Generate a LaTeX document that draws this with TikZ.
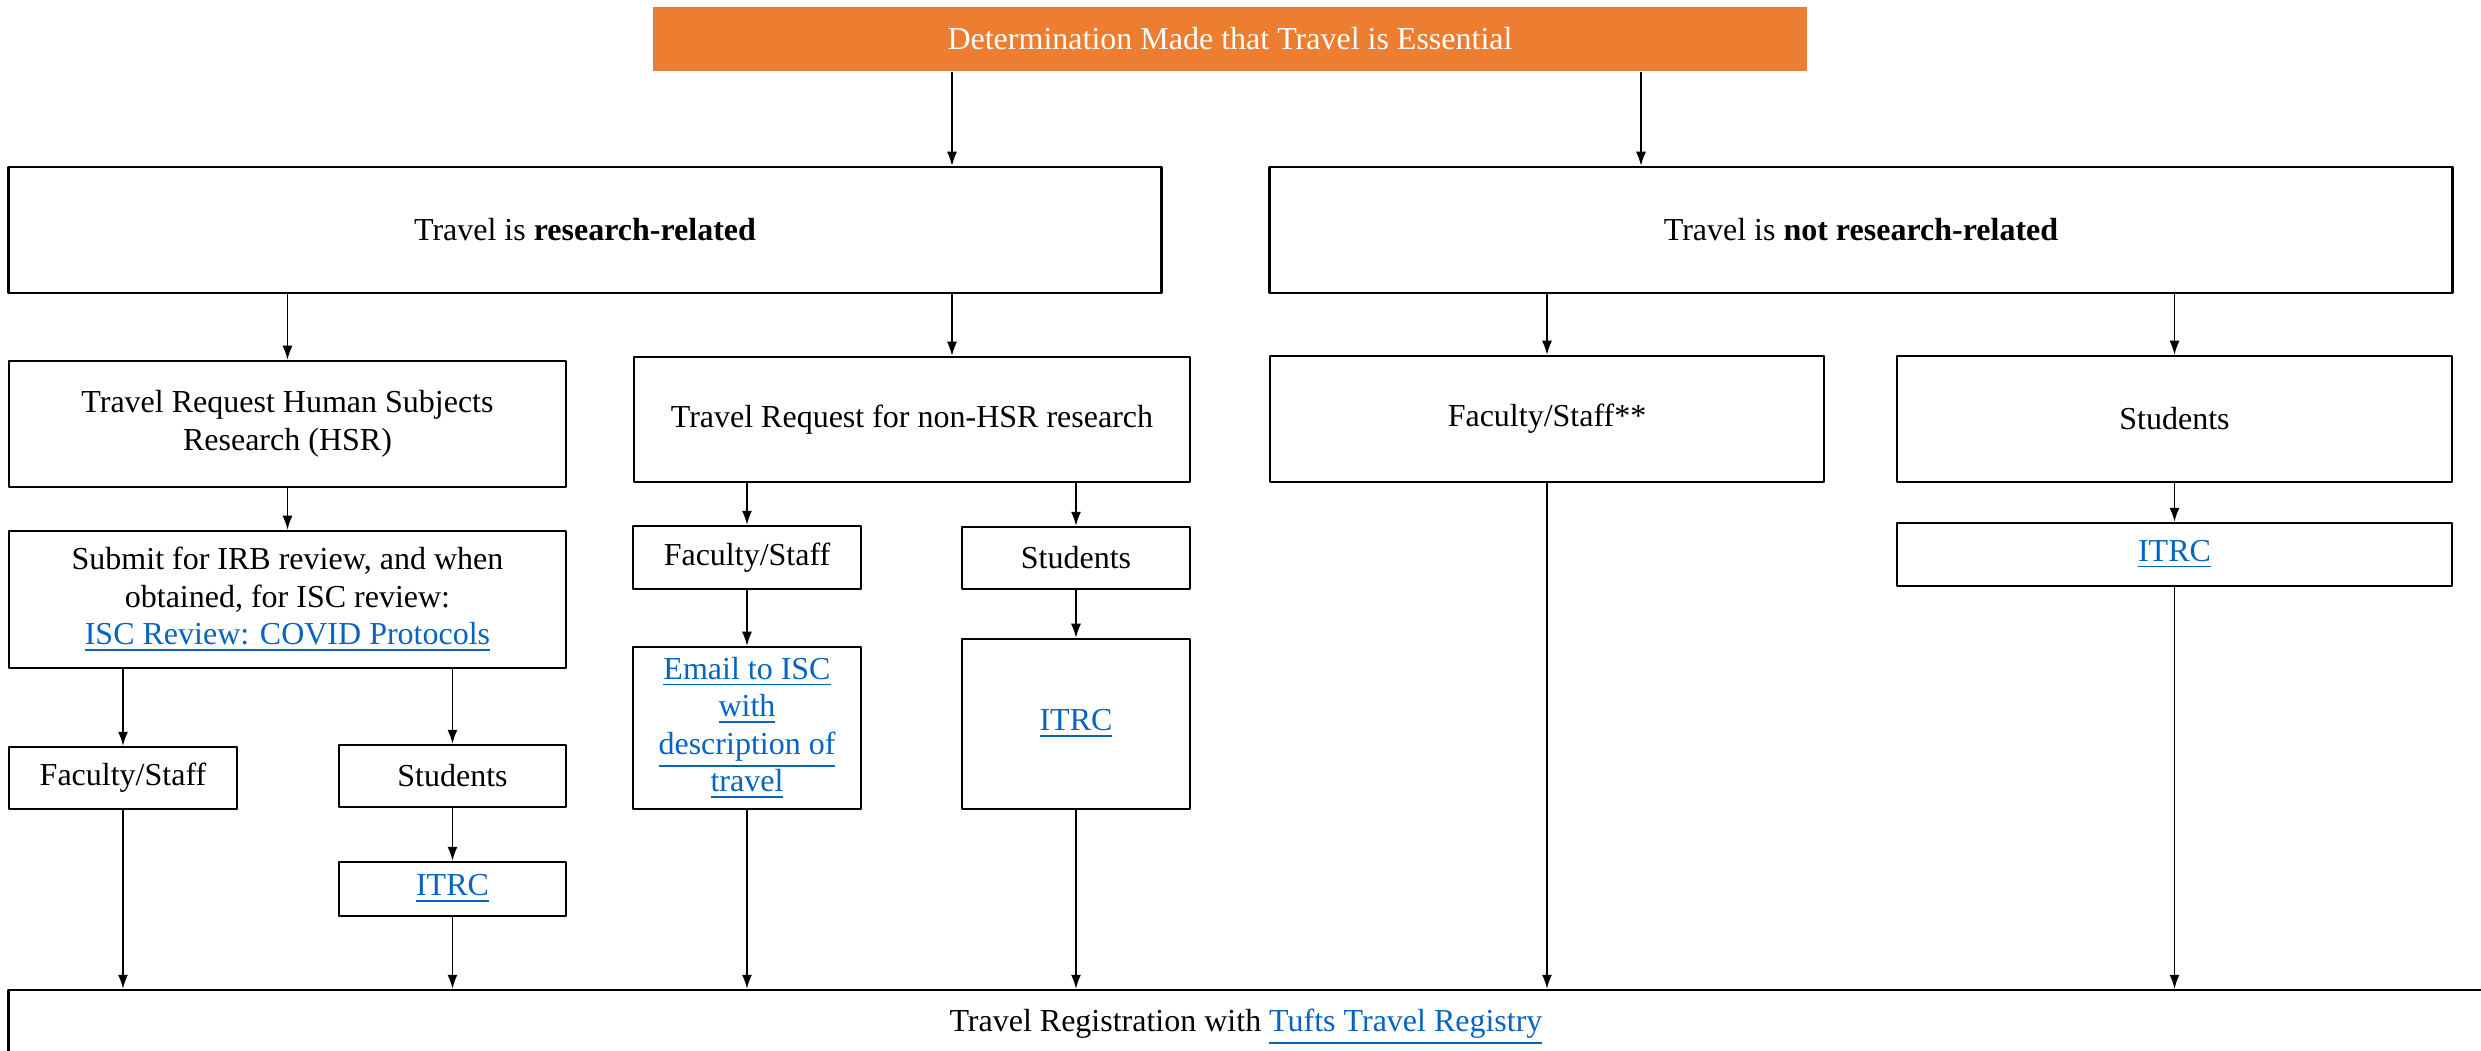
\documentclass[tikz,border=0pt]{standalone}
\usepackage{fontspec}
\setmainfont{Liberation Serif}
\usetikzlibrary{arrows.meta}
\definecolor{essorange}{HTML}{ED7D31}
\definecolor{linkblue}{HTML}{0563C1}
\newcommand{\hlink}[1]{\textcolor{linkblue}{\underline{#1}}}

\begin{document}
\begin{tikzpicture}[
    x={(0.01cm,0cm)},
    y={(0cm,-0.01cm)},
    line join=round,
    >={Latex[length=0.14cm,width=0.1cm]},
    font=\fontsize{9.1}{10.7}\selectfont,
    box/.style={draw,line width=0.7pt,inner sep=0pt,align=center},
    flow/.style={->,line width=0.4pt}
]
\useasboundingbox (0,0) rectangle (2481,1050);

% top row
\node[box,draw=none,fill=essorange,text=white,minimum width=11.54cm,minimum height=0.63cm] (ess) at (1230,39) {Determination Made that Travel is Essential};
\node[box,minimum width=11.52cm,minimum height=1.26cm] (res) at (585,230) {Travel is \textbf{research-related}};
\node[box,minimum width=11.82cm,minimum height=1.26cm] (nres) at (1861,230) {Travel is \textbf{not research-related}};

% second row
\node[box,minimum width=5.57cm,minimum height=1.26cm] (hsr) at (287.5,424) {Travel Request Human Subjects\\Research (HSR)};
\node[box,minimum width=5.56cm,minimum height=1.25cm] (nhsr) at (912,419.5) {Travel Request for non-HSR research};
\node[box,minimum width=5.54cm,minimum height=1.26cm] (fsn) at (1547,419) {Faculty/Staff**};
\node[box,minimum width=5.55cm,minimum height=1.26cm] (stn) at (2174.5,419) {Students};

% third row
\node[box,minimum width=5.57cm,minimum height=1.37cm] (irb) at (287.5,599.5) {Submit for IRB review, and when\\obtained, for ISC review:\\\hlink{ISC Review: COVID Protocols}};
\node[box,minimum width=2.28cm,minimum height=0.63cm] (fs2) at (747,557.5) {Faculty/Staff};
\node[box,minimum width=2.28cm,minimum height=0.62cm] (st2) at (1076,558) {Students};
\node[box,minimum width=5.55cm,minimum height=0.63cm] (itrc3) at (2174.5,554.5) {\hlink{ITRC}};

% lower boxes
\node[box,minimum width=2.28cm,minimum height=0.62cm] (fs1) at (123,778) {Faculty/Staff};
\node[box,minimum width=2.27cm,minimum height=0.62cm] (st1) at (452.5,776) {Students};
\node[box,minimum width=2.27cm,minimum height=0.54cm] (itrc1) at (452.5,889) {\hlink{ITRC}};
\node[box,minimum width=2.28cm,minimum height=1.62cm] (email) at (747,728) {\hlink{Email to ISC}\\\hlink{with}\\\hlink{description of}\\\hlink{travel}};
\node[box,minimum width=2.28cm,minimum height=1.70cm] (itrc2) at (1076,724) {\hlink{ITRC}};

\node[box,minimum width=24.74cm,minimum height=0.74cm] (reg) at (1246,1027) {Travel Registration with \hlink{Tufts Travel Registry}};

\coordinate (c1) at (952,0);
\coordinate (c2) at (1641,0);

\draw[flow] (ess.south -| c1) -- (res.north -| c1);
\draw[flow] (ess.south -| c2) -- (nres.north -| c2);
\draw[flow] (res.south -| hsr) -- (hsr);
\draw[flow] (res.south -| c1) -- (nhsr.north -| c1);
\draw[flow] (nres.south -| fsn) -- (fsn);
\draw[flow] (nres.south -| stn) -- (stn);

\draw[flow] (hsr) -- (irb);
\draw[flow] (irb.south -| fs1) -- (fs1);
\draw[flow] (irb.south -| st1) -- (st1);
\draw[flow] (st1) -- (itrc1);
\draw[flow] (nhsr.south -| fs2) -- (fs2);
\draw[flow] (nhsr.south -| st2) -- (st2);
\draw[flow] (fs2) -- (email);
\draw[flow] (st2) -- (itrc2);
\draw[flow] (stn) -- (itrc3);

\foreach \n in {fs1,itrc1,email,itrc2,fsn,itrc3}
  \draw[flow] (\n.south) -- (reg.north -| \n);

\end{tikzpicture}
\end{document}
